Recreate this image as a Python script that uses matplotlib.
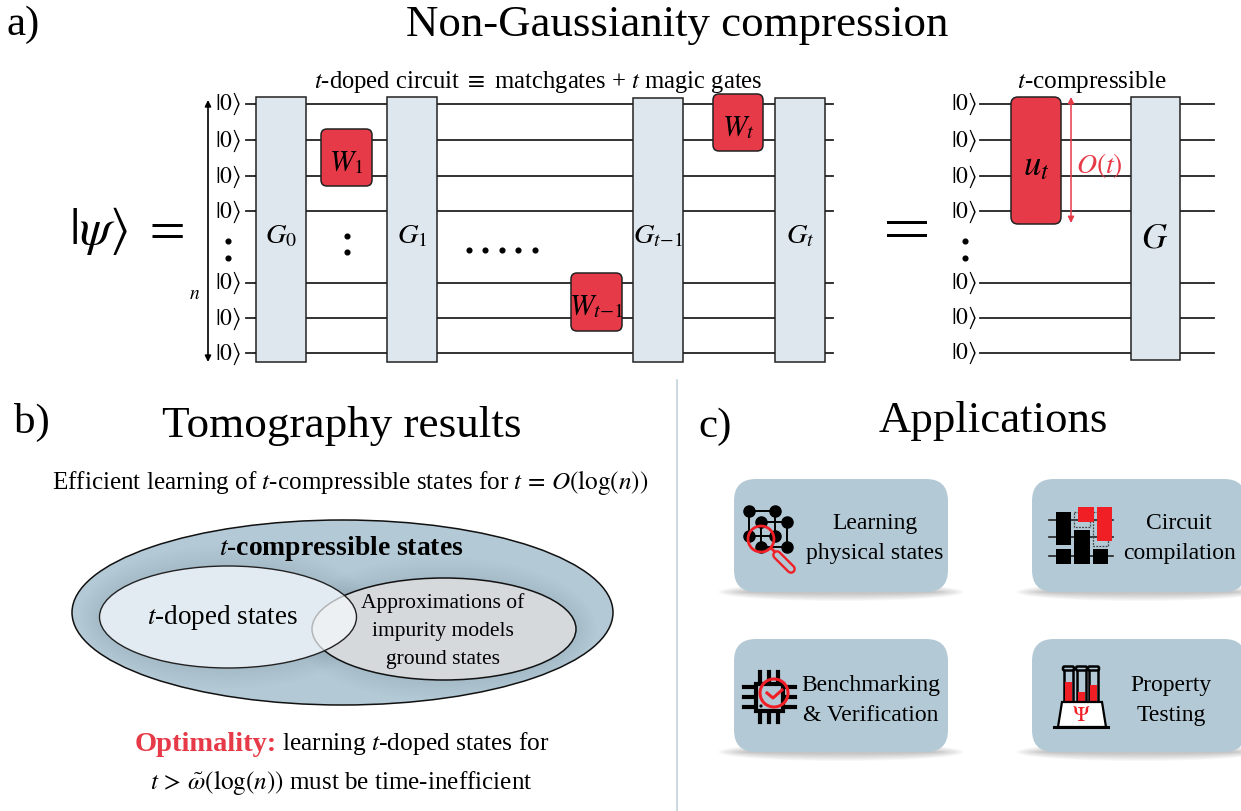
#!/usr/bin/env python3

import matplotlib
matplotlib.use('Agg')
import matplotlib.pyplot as plt
from matplotlib.patches import Rectangle, FancyBboxPatch, Ellipse, Circle, Polygon

plt.rcParams['font.family'] = ['Liberation Serif', 'DejaVu Sans']
plt.rcParams['mathtext.fontset'] = 'stix'

# circuit layout, in picture pixels
wire_y = [103.5, 140, 176, 211, 282.5, 318, 353]
wire_y2 = [103.5, 140, 176, 211, 282.5, 317.5, 352.5]
g_boxes = [(255.5, 97, 50.5, 265), (387, 97, 50, 265), (633, 98, 50, 264), (775, 98, 50, 264)]
g_labels = ['$G_0$', '$G_1$', r'$G_{t\!-\!1}$', '$G_t$']
w_boxes = [(321, 129, 51, 57), (571, 273, 51, 58), (713, 94, 50, 57)]
w_labels = ['$W_1$', r'$W_{t\!-\!1}$', '$W_t$']
dots_h = [469, 485, 502, 518, 535]

# applications cards
card_x = [734, 1032]
card_y = [479, 639]
card_labels = [['Learning', 'physical states'], ['Circuit', 'compilation'],
               ['Benchmarking', '& Verification'], ['Property', 'Testing']]
card_text_xy = [(875, 522), (1179, 522), (871, 684), (1171, 684)]

# icons
lattice_back = [(749, 511), (775, 511), (749, 536), (775, 536)]
lattice_front = [(761, 522), (787, 522), (761, 547), (787, 547)]
black_blocks = [(1056, 512, 15, 33), (1056, 549, 15, 15), (1074, 530, 16, 34), (1093, 549, 15, 15)]
red_blocks = [(1078, 507, 16, 15), (1097, 507, 15, 34)]
dash_blocks = [(1074, 512, 16, 15), (1093, 512, 15, 34)]
tube_x = [1064, 1077, 1089]
tube_level = [682, 692, 685]

RED = '#e73a48'
ICON_RED = '#f01f26'
BLUE = '#b3c9d6'
PALE = '#dfe7ee'
W, H = 1241, 812

fig = plt.figure(figsize=(W / 100, H / 100), dpi=100)
ax = fig.add_axes([0, 0, 1, 1])
ax.set_xlim(0, W)
ax.set_ylim(H - 1, -1)
ax.axis('off')


def txt(x, y, s, size=17, color='black', ha='center', **kw):
    ax.text(x, y + size * 0.1, s, fontsize=size, color=color, ha=ha, va='center', **kw)


def ket_column(x, ys):
    for y in ys:
        txt(x, y - 2, r'$|0\rangle$', size=17)


def arrow(x, y0, y1, color, lw=1.2):
    ax.annotate('', xy=(x, y0), xytext=(x, y1),
                arrowprops=dict(arrowstyle='<|-|>', color=color, lw=lw,
                                mutation_scale=9, shrinkA=0, shrinkB=0))


# headings
txt(7, 21, 'a)', size=31, ha='left')
txt(677, 21, 'Non-Gaussianity compression', size=32.3)
txt(14, 418, 'b)', size=31, ha='left')
txt(342, 422, 'Tomography results', size=32.5)
txt(698, 423, 'c)', size=31, ha='left')
txt(993, 417, 'Applications', size=32.3)
ax.plot([677, 677], [380, 812], color='#c3d2da', lw=1.2)

# left circuit
for y in wire_y:
    ax.plot([255, 833], [y, y], color='#222222', lw=1.3, zorder=1)
    ax.plot([246, 256], [y, y], color='#222222', lw=1.3, zorder=1)
for (x, y, w, h), label in zip(g_boxes, g_labels):
    ax.add_patch(Rectangle((x, y), w, h, fc=PALE, ec='#222222', lw=1.1, zorder=2))
    txt(x + w / 2, 234, label, size=20.5, zorder=3)
for (x, y, w, h), label in zip(w_boxes, w_labels):
    ax.add_patch(FancyBboxPatch((x + 6, y + 6), w - 12, h - 12, boxstyle='round,pad=6,rounding_size=6',
                                fc=RED, ec='#222222', lw=1.1, zorder=2))
    txt(x + w / 2, y + h / 2 + 2, label, size=21, zorder=3)
ket_column(228, wire_y)
arrow(208, 100, 362, 'black')
txt(195, 292, '$n$', size=14)
ax.plot([228, 228], [241, 258], ls='none', marker='o', ms=3.4, color='black')
ax.plot([347, 347], [236, 252], ls='none', marker='o', ms=3.4, color='black')
ax.plot(dots_h, [250] * len(dots_h), ls='none', marker='o', ms=3.4, color='black')
txt(538, 79, r'$t$-doped circuit $\equiv$ matchgates + $t$ magic gates', size=17.7)
txt(127, 226, r'$|\psi\rangle\ =$', size=37)

# right circuit
ax.add_patch(Rectangle((887, 221), 40, 2.6, fc='black', ec='none'))
ax.add_patch(Rectangle((887, 234), 40, 2.6, fc='black', ec='none'))
for y in wire_y2:
    ax.plot([980, 1214], [y, y], color='#222222', lw=1.3, zorder=1)
ket_column(964, wire_y2)
ax.plot([965, 965], [241, 258], ls='none', marker='o', ms=3.4, color='black')
ax.add_patch(FancyBboxPatch((1017, 103), 38, 115, boxstyle='round,pad=6,rounding_size=7',
                            fc=RED, ec='#222222', lw=1.1, zorder=2))
txt(1036, 163, '$u_t$', size=25, zorder=3)
ax.add_patch(Rectangle((1131, 97), 49, 263, fc=PALE, ec='#222222', lw=1.1, zorder=2))
txt(1155, 236, '$G$', size=25, zorder=3)
arrow(1071, 97, 223, RED, lw=1.1)
txt(1099, 163, '$O(t)$', size=20, color=RED)
txt(1092, 79, '$t$-compressible', size=18.2)

# tomography panel
txt(350, 480, r'Efficient learning of $t$-compressible states for $t\,=\,O(\log(n))$', size=18.1)
outer = Ellipse((342.5, 612.5), 541, 185, fc=BLUE, ec='#111111', lw=1.1, zorder=2)
ax.add_patch(outer)
for i in range(14):
    for cx, cy, w, h in [(228, 617, 257, 102), (444, 629, 264, 102)]:
        glow = Ellipse((cx, cy), w + 42 - 3 * i, h + 42 - 3 * i, fc='#5f8096', ec='none',
                       alpha=0.009, zorder=3)
        ax.add_patch(glow)
        glow.set_clip_path(outer)
ax.add_patch(Ellipse((228, 617), 257, 102, fc=BLUE, ec='none', zorder=3.5))
ax.add_patch(Ellipse((444, 629), 264, 102, fc='#d5d9db', ec='#111111', lw=1.1, zorder=4))
ax.add_patch(Ellipse((228, 617), 257, 102, fc='#f6fafd', ec='none', alpha=0.71, zorder=5))
ax.add_patch(Ellipse((228, 617), 257, 102, fc='none', ec='#222222', lw=1.0, zorder=5))
txt(341, 546, '$t$-compressible states', size=19.9, weight='bold', zorder=6)
txt(222, 615, '$t$-doped states', size=19.5, zorder=6)
txt(443, 600, 'Approximations of', size=15.5, zorder=6)
txt(443, 629, 'impurity models', size=15.5, zorder=6)
txt(443, 657, 'ground states', size=15.5, zorder=6)
txt(135, 741, 'Optimality:', size=20.5, color=RED, ha='left', weight='bold')
txt(282, 741, r'learning $t$-doped states for', size=18.3, ha='left')
txt(341, 780, r'$t\,>\,\tilde{\omega}(\log(n))$ must be time-inefficient', size=18.1)

# application cards
k = 0
for cy in card_y:
    for cx in card_x:
        for i in range(12):
            ax.add_patch(Ellipse((cx + 107, cy + 113), 246 - 5 * i, 18 - 1.4 * i, fc='#555555',
                                 ec='none', alpha=0.03, zorder=1))
        ax.add_patch(FancyBboxPatch((cx + 22, cy + 22), 214 - 44, 113 - 44,
                                    boxstyle='round,pad=22,rounding_size=22',
                                    fc=BLUE, ec='none', zorder=2))
        lx, ly = card_text_xy[k]
        txt(lx, ly - 1, card_labels[k][0], size=17, zorder=4)
        txt(lx, ly + 29, card_labels[k][1], size=17, zorder=4)
        k += 1

# lattice and magnifying glass
for pts in (lattice_back, lattice_front):
    order = [0, 1, 3, 2, 0]
    ax.plot([pts[i][0] for i in order], [pts[i][1] for i in order], color='black', lw=1.4, zorder=5)
    ax.plot([p[0] for p in pts], [p[1] for p in pts], ls='none', marker='o', ms=8, color='black', zorder=5)
ax.add_patch(Circle((761, 539), 13, fc='none', ec=ICON_RED, lw=2, zorder=6))
ax.plot([771, 776], [548, 553], color=ICON_RED, lw=2, zorder=6)
ax.plot([777, 791], [555, 569], color=ICON_RED, lw=7, solid_capstyle='round', zorder=6)
ax.plot([777, 791], [555, 569], color=BLUE, lw=3.6, solid_capstyle='round', zorder=7)

# compilation icon
for y in (520, 537, 556):
    ax.plot([1049, 1113], [y, y], color='#222222', lw=1.2, zorder=3)
for x, y, w, h in dash_blocks:
    ax.add_patch(Rectangle((x, y), w, h, fc='none', ec='#444444', lw=0.9, ls=(0, (1.5, 1)), zorder=4))
for x, y, w, h in black_blocks:
    ax.add_patch(Rectangle((x, y), w, h, fc='black', ec='none', zorder=5))
for x, y, w, h in red_blocks:
    ax.add_patch(Rectangle((x, y), w, h, fc=ICON_RED, ec='none', zorder=5))

# chip icon
ax.add_patch(Rectangle((756, 684), 27, 27, fc=BLUE, ec='black', lw=3, zorder=4))
for p in (760, 769, 778):
    ax.plot([p, p], [672, 722], color='black', lw=3, zorder=3)
for p in (687, 697, 707):
    ax.plot([744, 795], [p, p], color='black', lw=3, zorder=3)
ax.add_patch(Circle((761, 706), 1.6, fc='black', ec='none', zorder=5))
ax.add_patch(Circle((774, 693), 14, fc='none', ec=ICON_RED, lw=2.2, zorder=6))
ax.plot([767, 773, 782], [693, 698, 690], color=ICON_RED, lw=2.2, zorder=6)

# flask icon
for x, lvl in zip(tube_x, tube_level):
    ax.add_patch(Rectangle((x, 668), 9, 34, fc=BLUE, ec='black', lw=1.8, zorder=4))
    ax.add_patch(Rectangle((x + 1, lvl), 7, 702 - lvl, fc=ICON_RED, ec='none', zorder=5))
    ax.add_patch(FancyBboxPatch((x - 0.5, 667), 10, 3, boxstyle='round,pad=0.5,rounding_size=1.5',
                                fc=BLUE, ec='black', lw=1.8, zorder=6))
ax.add_patch(Polygon([(1058, 727), (1062, 702), (1102, 702), (1106, 727)], fc='white', ec='black', lw=1.6, zorder=5))
ax.plot([1054, 1108], [727, 727], color='black', lw=2.2, zorder=6)
txt(1081, 714, r'$\Psi$', size=16, color=ICON_RED, zorder=7)

fig.savefig('out.png', dpi=100)
